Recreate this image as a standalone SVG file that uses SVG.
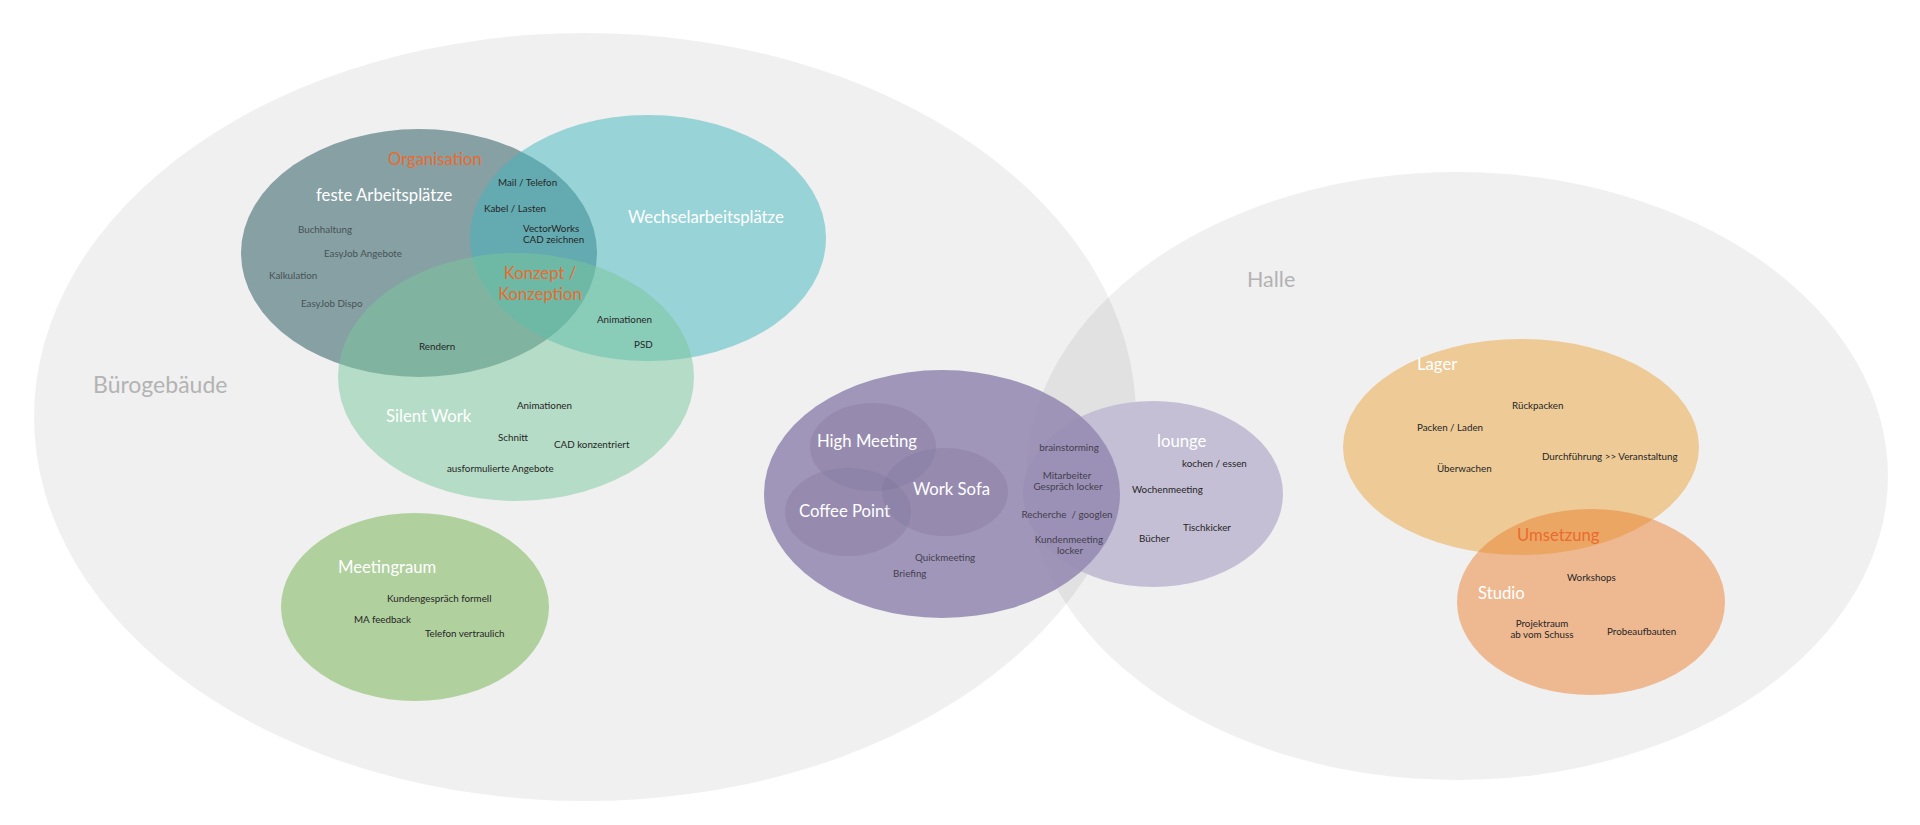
<svg xmlns="http://www.w3.org/2000/svg" width="1920" height="825" viewBox="0 0 1920 825">
  <style>
    text { font-family: Lato, "Liberation Sans", sans-serif; }
    .area { fill: #000; fill-opacity: 0.059; }
    .area-label { font-size: 23px; fill: #b3b3b3; }
    .big { font-size: 16.7px; fill: #ffffff; }
    .org { font-size: 16.7px; fill: #ea6b2e; }
    .sm { font-size: 9.8px; fill: #262626; }
    .smg { font-size: 9.8px; fill: #485355; }
    .smp { font-size: 9.8px; fill: #45404d; }
    .mid { text-anchor: middle; }
  </style>
  <rect width="1920" height="825" fill="#ffffff"/>

  <g id="buerogebaeude">
    <ellipse class="area" cx="585" cy="417" rx="551" ry="384"/>
    <text class="area-label" x="93" y="393">Bürogebäude</text>
  </g>

  <g id="halle">
    <ellipse class="area" cx="1457" cy="476" rx="431" ry="304"/>
    <text class="area-label" x="1247" y="287" style="font-size:21.5px">Halle</text>
  </g>

  <g id="feste-arbeitsplaetze">
    <ellipse cx="419" cy="253" rx="178" ry="124" fill="#86a0a4"/>
    <text class="org" x="388" y="165">Organisation</text>
    <text class="big" x="316" y="201">feste Arbeitsplätze</text>
    <text class="smg" x="298" y="233">Buchhaltung</text>
    <text class="smg" x="324" y="257">EasyJob Angebote</text>
    <text class="smg" x="269" y="279">Kalkulation</text>
    <text class="smg" x="301" y="307">EasyJob Dispo</text>
  </g>

  <g id="wechselarbeitsplaetze">
    <ellipse cx="648" cy="238" rx="178" ry="123" fill="#40b6be" fill-opacity="0.5"/>
    <text class="big" x="628" y="223">Wechselarbeitsplätze</text>
    <text class="sm" x="498" y="186">Mail / Telefon</text>
    <text class="sm" x="484" y="212">Kabel / Lasten</text>
    <text class="sm" x="523" y="232">VectorWorks</text>
    <text class="sm" x="523" y="243">CAD zeichnen</text>
  </g>

  <g id="silent-work">
    <ellipse cx="516" cy="377" rx="178" ry="124" fill="#7ac89c" fill-opacity="0.5"/>
    <text class="org mid" x="540" y="279">Konzept /</text>
    <text class="org mid" x="540" y="300">Konzeption</text>
    <text class="sm" x="419" y="350">Rendern</text>
    <text class="sm" x="597" y="323">Animationen</text>
    <text class="sm" x="634" y="348">PSD</text>
    <text class="big" x="386" y="422">Silent Work</text>
    <text class="sm" x="517" y="409">Animationen</text>
    <text class="sm" x="498" y="441">Schnitt</text>
    <text class="sm" x="554" y="448">CAD konzentriert</text>
    <text class="sm" x="447" y="472">ausformulierte Angebote</text>
  </g>

  <g id="meetingraum">
    <ellipse cx="415" cy="607" rx="134" ry="94" fill="#b0d09e"/>
    <text class="big" x="338" y="573">Meetingraum</text>
    <text class="sm" x="387" y="602">Kundengespräch formell</text>
    <text class="sm" x="354" y="623">MA feedback</text>
    <text class="sm" x="425" y="637">Telefon vertraulich</text>
  </g>

  <g id="lounge">
    <ellipse cx="1153" cy="494" rx="130" ry="93" fill="#c4bfd5"/>
    <text class="big" x="1157" y="447">lounge</text>
    <text class="sm" x="1182" y="467">kochen / essen</text>
    <text class="sm" x="1132" y="493">Wochenmeeting</text>
    <text class="sm" x="1183" y="531">Tischkicker</text>
    <text class="sm" x="1139" y="542">Bücher</text>
  </g>

  <g id="treffpunkt">
    <ellipse cx="942" cy="494" rx="178" ry="124" fill="#978cb3" fill-opacity="0.9"/>
    <text class="smp mid" x="1069" y="451">brainstorming</text>
    <text class="smp mid" x="1067" y="479">Mitarbeiter</text>
    <text class="smp mid" x="1068" y="490">Gespräch locker</text>
    <text class="smp mid" x="1067" y="518" xml:space="preserve">Recherche  / googlen</text>
    <text class="smp mid" x="1069" y="543">Kundenmeeting</text>
    <text class="smp mid" x="1070" y="554">locker</text>
    <text class="smp" x="915" y="561">Quickmeeting</text>
    <text class="smp" x="893" y="577">Briefing</text>
  </g>

  <g id="high-meeting">
    <ellipse cx="873" cy="447" rx="63" ry="44" fill="#786a95" fill-opacity="0.25"/>
    <text class="big" x="817" y="447">High Meeting</text>
  </g>

  <g id="coffee-point">
    <ellipse cx="848" cy="512" rx="63" ry="44" fill="#786a95" fill-opacity="0.25"/>
    <text class="big" x="799" y="517">Coffee Point</text>
  </g>

  <g id="work-sofa">
    <ellipse cx="945" cy="492" rx="63" ry="44" fill="#786a95" fill-opacity="0.25"/>
    <text class="big" x="913" y="495">Work Sofa</text>
  </g>

  <g id="lager">
    <ellipse cx="1521" cy="447" rx="178" ry="108" fill="#edca96"/>
    <text class="big" x="1417" y="370">Lager</text>
    <text class="sm" x="1512" y="409">Rückpacken</text>
    <text class="sm" x="1417" y="431">Packen / Laden</text>
    <text class="sm" x="1542" y="460">Durchführung &gt;&gt; Veranstaltung</text>
    <text class="sm" x="1437" y="472">Überwachen</text>
  </g>

  <g id="studio">
    <ellipse cx="1591" cy="602" rx="134" ry="93" fill="#ec8232" fill-opacity="0.5"/>
    <text class="org" x="1517" y="541">Umsetzung</text>
    <text class="big" x="1478" y="599">Studio</text>
    <text class="sm" x="1567" y="581">Workshops</text>
    <text class="sm mid" x="1542" y="627">Projektraum</text>
    <text class="sm mid" x="1542" y="638">ab vom Schuss</text>
    <text class="sm" x="1607" y="635">Probeaufbauten</text>
  </g>

  <g id="connectors"/>
</svg>
